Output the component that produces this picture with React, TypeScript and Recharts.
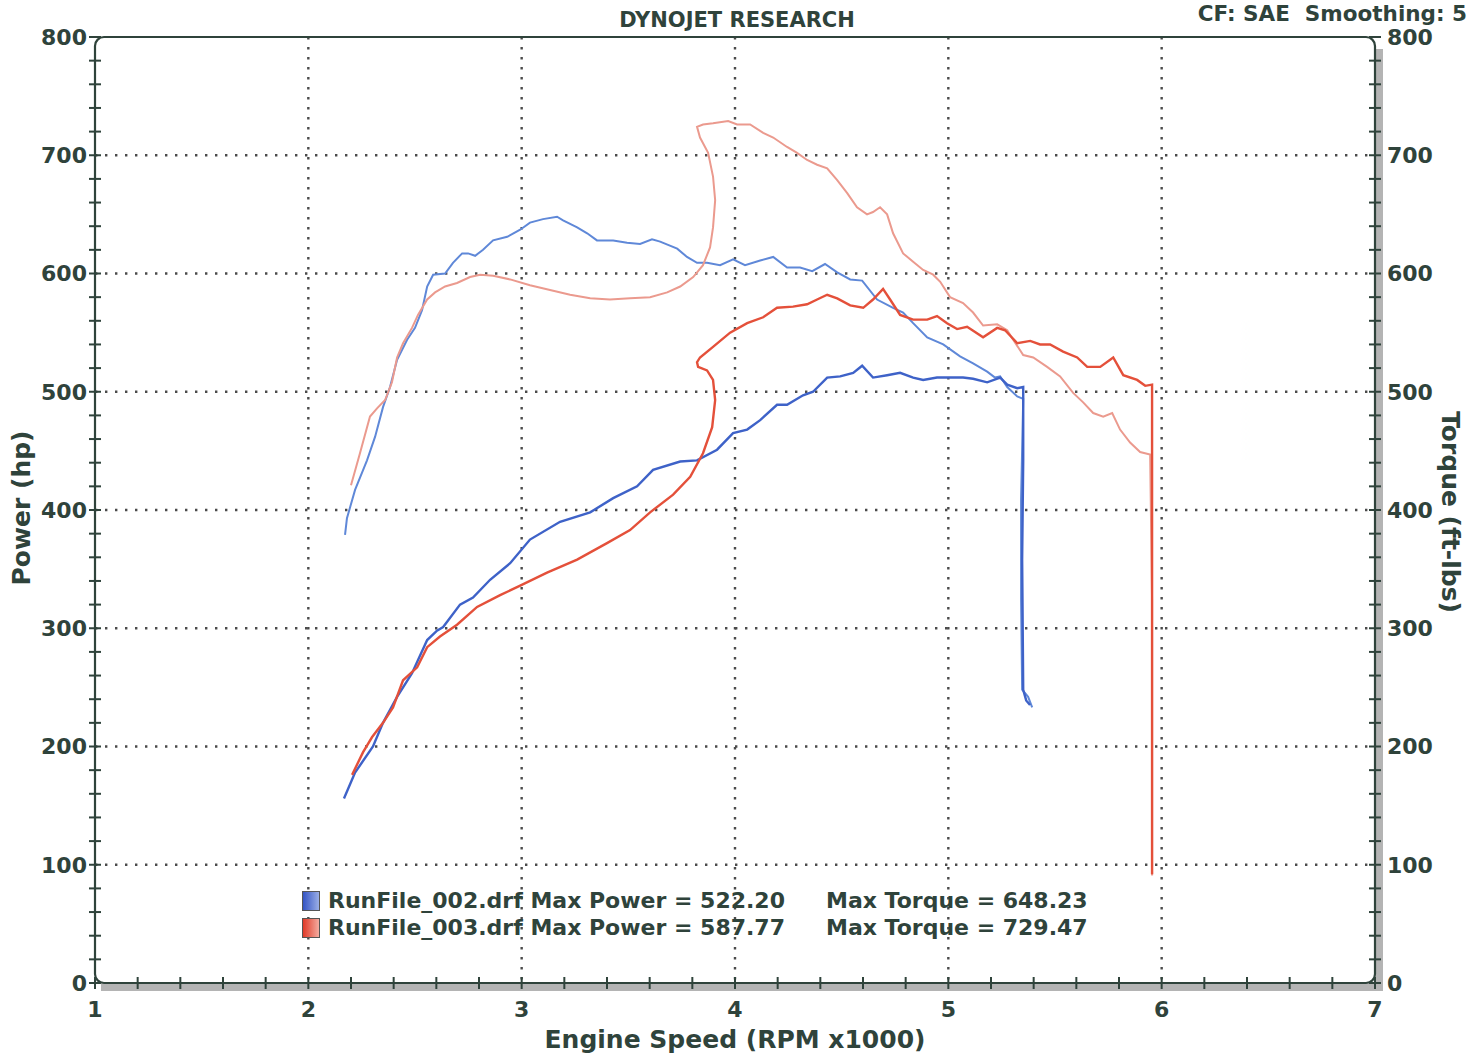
import {
  CartesianGrid,
  Line,
  LineChart,
  ReferenceArea,
  XAxis,
  YAxis,
} from "recharts";

// [rpm x1000, value] pairs
const run002Power: [number, number][] = [
  [2.167, 156], [2.219, 178], [2.303, 200], [2.35, 220], [2.416, 242], [2.486, 262],
  [2.557, 290], [2.603, 298], [2.632, 301], [2.711, 320], [2.772, 326], [2.852, 341],
  [2.946, 355], [3.039, 375], [3.18, 390], [3.321, 398], [3.429, 410], [3.541, 420],
  [3.616, 434], [3.743, 441], [3.822, 442], [3.916, 451], [3.991, 465], [4.057, 468],
  [4.118, 476], [4.197, 489], [4.244, 489], [4.319, 497], [4.366, 500], [4.432, 512],
  [4.493, 513], [4.554, 516], [4.596, 522], [4.647, 512], [4.713, 514], [4.774, 516],
  [4.835, 512], [4.882, 510], [4.947, 512], [5.022, 512], [5.069, 512], [5.116, 511],
  [5.182, 508], [5.243, 512], [5.276, 506], [5.323, 503], [5.351, 504], [5.351, 442],
  [5.346, 358], [5.351, 248], [5.365, 239], [5.383, 235],
];

const run002Torque: [number, number][] = [
  [2.172, 379], [2.181, 393], [2.219, 417], [2.275, 442], [2.313, 462], [2.35, 487],
  [2.383, 504], [2.416, 527], [2.463, 544], [2.5, 554], [2.533, 569], [2.557, 589],
  [2.585, 599], [2.641, 600], [2.678, 609], [2.721, 617], [2.749, 617], [2.782, 615],
  [2.819, 620], [2.866, 628], [2.932, 631], [2.993, 637], [3.039, 643], [3.1, 646],
  [3.166, 648], [3.194, 645], [3.26, 639], [3.307, 634], [3.353, 628], [3.429, 628],
  [3.494, 626], [3.555, 625], [3.611, 629], [3.649, 627], [3.729, 621], [3.775, 614],
  [3.822, 609], [3.869, 609], [3.93, 607], [3.991, 612], [4.047, 607], [4.118, 611],
  [4.179, 614], [4.244, 605], [4.305, 605], [4.362, 602], [4.422, 608], [4.479, 601],
  [4.54, 595], [4.596, 594], [4.666, 578], [4.741, 571], [4.788, 567], [4.835, 558],
  [4.901, 546], [4.976, 540], [5.055, 530], [5.116, 524], [5.182, 517], [5.219, 512],
  [5.243, 513], [5.276, 504], [5.323, 496], [5.351, 494], [5.341, 409], [5.341, 324],
  [5.346, 248], [5.374, 242], [5.393, 233],
];

const run003Power: [number, number][] = [
  [2.205, 176], [2.256, 195], [2.299, 208], [2.35, 220], [2.397, 233], [2.444, 256],
  [2.51, 267], [2.557, 284], [2.617, 293], [2.697, 303], [2.791, 318], [2.899, 328],
  [2.993, 336], [3.119, 347], [3.26, 358], [3.4, 372], [3.508, 383], [3.602, 398],
  [3.71, 413], [3.79, 428], [3.85, 448], [3.893, 470], [3.907, 493], [3.897, 510],
  [3.869, 518], [3.827, 521], [3.822, 525], [3.836, 529], [3.897, 538], [3.977, 550],
  [4.057, 558], [4.132, 563], [4.197, 571], [4.272, 572], [4.338, 574], [4.385, 578],
  [4.432, 582], [4.479, 579], [4.54, 573], [4.601, 571], [4.647, 578], [4.694, 587],
  [4.727, 578], [4.774, 565], [4.835, 561], [4.901, 561], [4.947, 564], [4.994, 558],
  [5.041, 553], [5.088, 555], [5.163, 546], [5.229, 554], [5.266, 552], [5.323, 541],
  [5.384, 543], [5.43, 540], [5.477, 540], [5.538, 534], [5.604, 529], [5.651, 521],
  [5.712, 521], [5.773, 529], [5.82, 514], [5.885, 510], [5.923, 505], [5.955, 506],
  [5.955, 442], [5.955, 324], [5.955, 189], [5.955, 92],
];

const run003Torque: [number, number][] = [
  [2.2, 421], [2.242, 448], [2.289, 479], [2.322, 486], [2.36, 493], [2.392, 508],
  [2.416, 529], [2.444, 541], [2.486, 554], [2.514, 565], [2.557, 578], [2.594, 584],
  [2.641, 589], [2.697, 592], [2.758, 597], [2.805, 599], [2.866, 598], [2.946, 595],
  [3.039, 590], [3.133, 586], [3.227, 582], [3.321, 579], [3.414, 578], [3.508, 579],
  [3.602, 580], [3.682, 584], [3.743, 589], [3.804, 597], [3.85, 607], [3.883, 622],
  [3.897, 639], [3.907, 662], [3.897, 682], [3.874, 702], [3.836, 715], [3.822, 724],
  [3.85, 726], [3.897, 727], [3.968, 729], [4.01, 726], [4.071, 726], [4.132, 719],
  [4.179, 715], [4.244, 707], [4.291, 702], [4.338, 696], [4.385, 692], [4.432, 689],
  [4.479, 679], [4.526, 668], [4.572, 656], [4.619, 650], [4.647, 652], [4.68, 656],
  [4.713, 650], [4.741, 634], [4.788, 617], [4.835, 610], [4.882, 603], [4.929, 599],
  [4.962, 593], [5.008, 580], [5.069, 575], [5.116, 567], [5.163, 556], [5.229, 557],
  [5.276, 552], [5.304, 544], [5.351, 531], [5.398, 529], [5.463, 521], [5.524, 513],
  [5.585, 499], [5.632, 491], [5.679, 482], [5.726, 479], [5.768, 482], [5.805, 468],
  [5.852, 457], [5.899, 449], [5.946, 447], [5.955, 324], [5.955, 91],
];

const rpmTicks = [
  1, 1.2, 1.4, 1.6, 1.8, 2, 2.2, 2.4, 2.6, 2.8, 3, 3.2, 3.4, 3.6, 3.8, 4,
  4.2, 4.4, 4.6, 4.8, 5, 5.2, 5.4, 5.6, 5.8, 6, 6.2, 6.4, 6.6, 6.8, 7,
];
const valueTicks = [
  0, 20, 40, 60, 80, 100, 120, 140, 160, 180, 200, 220, 240, 260, 280, 300,
  320, 340, 360, 380, 400, 420, 440, 460, 480, 500, 520, 540, 560, 580, 600,
  620, 640, 660, 680, 700, 720, 740, 760, 780, 800,
];
const gridRpm = [2, 3, 4, 5, 6];
const gridValues = [100, 200, 300, 400, 500, 600, 700];

const legendRows = [
  { file: "RunFile_002.drf", power: "522.20", torque: "648.23", from: "#3454c4", to: "#9aaee6" },
  { file: "RunFile_003.drf", power: "587.77", torque: "729.47", from: "#e03a28", to: "#f4aca0" },
];

const INK = "#2f433b";
const FONT = '"DejaVu Sans", Verdana, sans-serif';

const toPoints = (pairs: [number, number][]) =>
  pairs.map(([rpm, v]) => ({ rpm, v }));

const isMajor = (v: number, step: number) =>
  Math.abs(v / step - Math.round(v / step)) < 1e-6;

function LeftTick({ x, y, payload }: any) {
  const v = payload.value;
  return (
    <g>
      <line x1={x - 6} x2={x + 6} y1={y} y2={y} stroke={INK} strokeWidth={2} />
      {isMajor(v, 100) && (
        <text x={x - 8} y={y} dy="0.36em" textAnchor="end" fill={INK}
          fontSize={22} fontWeight={700} fontFamily={FONT}>
          {v}
        </text>
      )}
    </g>
  );
}

function RightTick({ x, y, payload }: any) {
  const v = payload.value;
  return (
    <g>
      <line x1={x - 6} x2={x + 6} y1={y} y2={y} stroke={INK} strokeWidth={2} />
      {isMajor(v, 100) && (
        <text x={x + 12} y={y} dy="0.36em" textAnchor="start" fill={INK}
          fontSize={22} fontWeight={700} fontFamily={FONT}>
          {v}
        </text>
      )}
    </g>
  );
}

function BottomTick({ x, y, payload }: any) {
  const v = payload.value;
  return (
    <g>
      <line x1={x} x2={x} y1={y - 6} y2={y + 6} stroke={INK} strokeWidth={2} />
      {isMajor(v, 1) && (
        <text x={x} y={y + 26} dy="0.36em" textAnchor="middle" fill={INK}
          fontSize={22} fontWeight={700} fontFamily={FONT}>
          {Math.round(v)}
        </text>
      )}
    </g>
  );
}

function PlotFrame({ x, y, width, height }: any) {
  const r = 9;
  return (
    <g>
      <rect x={x + width} y={y + 12} width={8} height={height - 4} fill="#b4b4b4" />
      <rect x={x + 6} y={y + height} width={width + 2} height={8} fill="#b4b4b4" />
      <rect x={x} y={y} width={width} height={height} rx={r} ry={r}
        fill="none" stroke={INK} strokeWidth={2.2} />
    </g>
  );
}

export default function App() {
  return (
    <div
      style={{
        position: "absolute",
        left: 0,
        top: 0,
        width: 1482,
        height: 1057,
        background: "#ffffff",
        fontFamily: FONT,
        color: INK,
        fontWeight: 700,
      }}
    >
      <LineChart
        width={1482}
        height={1057}
        margin={{ top: 37, right: 0, bottom: 0, left: 0 }}
      >
        <CartesianGrid
          yAxisId="hp"
          horizontalValues={gridValues}
          verticalValues={gridRpm}
          stroke="#4a4a4a"
          strokeWidth={2.4}
          strokeDasharray="2.4 7.6"
        />
        <XAxis
          type="number"
          dataKey="rpm"
          domain={[1, 7]}
          ticks={rpmTicks}
          interval={0}
          height={74}
          axisLine={false}
          tickLine={false}
          tickSize={0}
          tickMargin={0}
          tick={<BottomTick />}
          allowDuplicatedCategory={false}
        />
        <YAxis
          yAxisId="hp"
          orientation="left"
          domain={[0, 800]}
          ticks={valueTicks}
          interval={0}
          width={95}
          axisLine={false}
          tickLine={false}
          tickSize={0}
          tickMargin={0}
          tick={<LeftTick />}
        />
        <YAxis
          yAxisId="tq"
          orientation="right"
          domain={[0, 800]}
          ticks={valueTicks}
          interval={0}
          width={107}
          axisLine={false}
          tickLine={false}
          tickSize={0}
          tickMargin={0}
          tick={<RightTick />}
        />
        <ReferenceArea
          yAxisId="hp"
          x1={1}
          x2={7}
          y1={0}
          y2={800}
          ifOverflow="visible"
          shape={<PlotFrame />}
        />
        <Line
          yAxisId="tq"
          data={toPoints(run002Torque)}
          dataKey="v"
          type="linear"
          stroke="#5f88d8"
          strokeWidth={2}
          dot={false}
          isAnimationActive={false}
        />
        <Line
          yAxisId="tq"
          data={toPoints(run003Torque)}
          dataKey="v"
          type="linear"
          stroke="#eb9a8e"
          strokeWidth={2}
          dot={false}
          isAnimationActive={false}
        />
        <Line
          yAxisId="hp"
          data={toPoints(run002Power)}
          dataKey="v"
          type="linear"
          stroke="#3e62c8"
          strokeWidth={2.4}
          dot={false}
          isAnimationActive={false}
        />
        <Line
          yAxisId="hp"
          data={toPoints(run003Power)}
          dataKey="v"
          type="linear"
          stroke="#e4503a"
          strokeWidth={2.4}
          dot={false}
          isAnimationActive={false}
        />
      </LineChart>

      <div style={{ position: "absolute", left: 537, width: 400, top: 7, textAlign: "center", fontSize: 21, lineHeight: "26px" }}>
        DYNOJET RESEARCH
      </div>
      <div style={{ position: "absolute", right: 15, top: 1, fontSize: 21.5, lineHeight: "26px", whiteSpace: "pre" }}>
        {"CF: SAE  Smoothing: 5"}
      </div>
      <div style={{ position: "absolute", left: 22 - 130, width: 260, top: 508 - 15, textAlign: "center", fontSize: 25, lineHeight: "30px", transform: "rotate(-90deg)" }}>
        Power (hp)
      </div>
      <div style={{ position: "absolute", left: 1450 - 130, width: 260, top: 512 - 15, textAlign: "center", fontSize: 25, lineHeight: "30px", transform: "rotate(90deg)" }}>
        Torque (ft-lbs)
      </div>
      <div style={{ position: "absolute", left: 735 - 250, width: 500, top: 1040 - 15, textAlign: "center", fontSize: 25, lineHeight: "30px" }}>
        Engine Speed (RPM x1000)
      </div>

      <div style={{ position: "absolute", left: 302, top: 887 }}>
        {legendRows.map((row) => (
          <div key={row.file} style={{ display: "flex", alignItems: "center", height: 27, fontSize: 22, whiteSpace: "nowrap" }}>
            <span
              style={{
                width: 16,
                height: 18,
                border: "1px solid #555",
                background: `linear-gradient(to right, ${row.from}, ${row.to})`,
                marginRight: 8,
              }}
            />
            <span style={{ width: 498 }}>{`${row.file} Max Power = ${row.power}`}</span>
            <span>{`Max Torque = ${row.torque}`}</span>
          </div>
        ))}
      </div>
    </div>
  );
}
